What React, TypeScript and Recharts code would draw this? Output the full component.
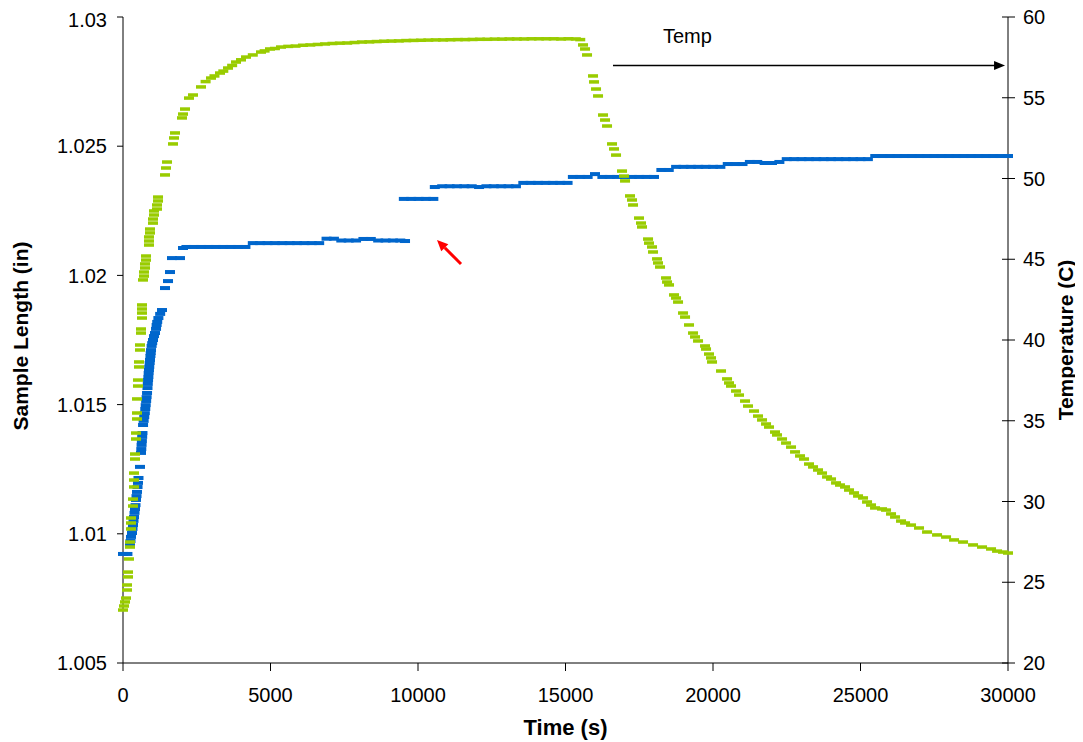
import { ComposedChart, Scatter, XAxis, YAxis, ReferenceLine } from "recharts";

// time (s) vs sample length (in)
const lengthRise: [number, number][] = [
  [0, 1.00922], [150, 1.00922], [237, 1.00957], [254, 1.00972], [271, 1.00988], [305, 1.01003],
  [322, 1.01019], [339, 1.01034], [356, 1.0105], [373, 1.01065], [390, 1.01081], [407, 1.01096],
  [424, 1.01111], [441, 1.01131], [458, 1.01146], [475, 1.01162], [492, 1.01181], [508, 1.01197],
  [525, 1.01216], [576, 1.01259], [610, 1.01313], [620, 1.01328], [630, 1.01344], [640, 1.01359],
  [650, 1.01375], [660, 1.0139], [680, 1.01421], [700, 1.01437], [720, 1.01452], [740, 1.01467],
  [755, 1.01483], [770, 1.01498], [785, 1.01514], [800, 1.01529], [815, 1.01545], [830, 1.01564],
  [840, 1.0158], [850, 1.01595], [860, 1.01607], [870, 1.01622], [880, 1.01634], [890, 1.01646],
  [905, 1.01661], [915, 1.01673], [930, 1.01688], [940, 1.017], [950, 1.01711], [970, 1.01727],
  [990, 1.01738], [1017, 1.0175], [1050, 1.01765], [1085, 1.01777], [1120, 1.01793], [1140, 1.01808],
  [1160, 1.0182], [1200, 1.01835], [1260, 1.01851], [1322, 1.01866], [1424, 1.01951], [1526, 1.01978],
  [1593, 1.02013], [1661, 1.02067], [1932, 1.02067], [2034, 1.02106],
];

const lengthFirstHold: [number, number][] = [
  [2150, 1.0211], [2400, 1.0211], [2650, 1.0211], [2900, 1.0211], [3150, 1.0211], [3400, 1.0211],
  [3650, 1.0211], [3900, 1.0211], [4150, 1.0211], [4400, 1.02125], [4650, 1.02125], [4900, 1.02125],
  [5150, 1.02125], [5400, 1.02125], [5650, 1.02125], [5900, 1.02125], [6150, 1.02125], [6400, 1.02125],
  [6650, 1.02125], [6900, 1.02142], [7150, 1.02142], [7400, 1.02135], [7650, 1.02135], [7900, 1.02135],
  [8150, 1.02141], [8400, 1.02141], [8650, 1.02135], [8900, 1.02135], [9150, 1.02135], [9400, 1.02135],
  [9560, 1.02133],
];

const lengthSecondHold: [number, number][] = [
  [9520, 1.02296], [9770, 1.02296], [10020, 1.02296], [10270, 1.02296], [10520, 1.02296],
  [10570, 1.02342], [10820, 1.02345], [11070, 1.02345], [11320, 1.02345], [11570, 1.02345],
  [11820, 1.02345], [12070, 1.02342], [12320, 1.02345], [12570, 1.02345], [12820, 1.02345],
  [13070, 1.02345], [13320, 1.02345], [13570, 1.02358], [13820, 1.02358], [14070, 1.02358],
  [14320, 1.02358], [14570, 1.02358], [14820, 1.02358], [15070, 1.02358], [15250, 1.02381],
  [15500, 1.02381], [15750, 1.02381], [16000, 1.02392], [16250, 1.02381], [16500, 1.02381],
  [16750, 1.02381], [17000, 1.02381], [17250, 1.02381], [17500, 1.02381], [17750, 1.02381],
  [18000, 1.02381], [18250, 1.02408], [18500, 1.02408], [18750, 1.0242], [19000, 1.0242],
  [19250, 1.0242], [19500, 1.0242], [19750, 1.0242], [20000, 1.0242], [20250, 1.0242],
  [20500, 1.02431], [20750, 1.02431], [21000, 1.02431], [21250, 1.02439], [21500, 1.02439],
  [21750, 1.02435], [22000, 1.02435], [22250, 1.02439], [22500, 1.0245], [22750, 1.0245],
  [23000, 1.0245], [23250, 1.0245], [23500, 1.0245], [23750, 1.0245], [24000, 1.0245],
  [24250, 1.0245], [24500, 1.0245], [24750, 1.0245], [25000, 1.0245], [25250, 1.0245],
  [25500, 1.02462], [25750, 1.02462], [26000, 1.02462], [26250, 1.02462], [26500, 1.02462],
  [26750, 1.02462], [27000, 1.02462], [27250, 1.02462], [27500, 1.02462], [27750, 1.02462],
  [28000, 1.02462], [28250, 1.02462], [28500, 1.02462], [28750, 1.02462], [29000, 1.02462],
  [29250, 1.02462], [29500, 1.02462], [29750, 1.02462], [30000, 1.02462],
];

// time (s) vs temperature (C)
const tempRise: [number, number][] = [
  [0, 23.28], [34, 23.53], [68, 23.78], [102, 24.02], [136, 24.52], [136, 24.83], [170, 25.33],
  [170, 25.63], [203, 26.44], [237, 27.18], [237, 27.49], [271, 28.3], [271, 28.67], [271, 28.98],
  [339, 29.72], [339, 30.15], [373, 30.9], [373, 31.33], [373, 31.76], [407, 32.63], [407, 32.94],
  [441, 33.87], [441, 34.24], [475, 35.11], [475, 35.48], [475, 36.35], [508, 37.15], [508, 37.52],
  [542, 38.33], [542, 38.64], [576, 39.38], [576, 39.69], [610, 40.43], [610, 40.68], [644, 41.36],
  [644, 41.67], [644, 41.92], [644, 42.17], [678, 43.72], [712, 43.96], [712, 44.21], [746, 44.46],
  [746, 44.71], [780, 44.95], [780, 45.2], [881, 45.88], [881, 46.13], [881, 46.38], [915, 46.63],
  [915, 46.87], [1017, 47.24], [1017, 47.49], [1051, 47.74], [1051, 47.99], [1153, 48.11],
  [1153, 48.36], [1187, 48.61], [1187, 48.85], [1424, 50.22], [1458, 50.65], [1492, 51.02],
  [1695, 52.14], [1729, 52.51], [1763, 52.82], [2000, 53.75], [2034, 53.99], [2102, 54.3],
  [2237, 54.98], [2373, 55.17], [2644, 55.67], [2800, 56.0], [2983, 56.22], [3100, 56.35],
  [3288, 56.53], [3400, 56.65], [3560, 56.84], [3700, 57.0], [3831, 57.21], [4000, 57.35],
  [4170, 57.52], [4400, 57.65], [4678, 57.83], [4800, 57.9], [4983, 58.02], [5150, 58.05], [5356, 58.14],
];

const tempPlateau: [number, number][] = [
  [5600, 58.18], [5850, 58.2], [6100, 58.25], [6350, 58.27], [6600, 58.3], [6850, 58.33],
  [7100, 58.36], [7350, 58.38], [7600, 58.39], [7850, 58.42], [8100, 58.45], [8350, 58.46],
  [8600, 58.48], [8850, 58.5], [9100, 58.51], [9350, 58.52], [9600, 58.54], [9850, 58.55],
  [10100, 58.56], [10350, 58.57], [10600, 58.58], [10850, 58.58], [11100, 58.59], [11350, 58.6],
  [11600, 58.6], [11850, 58.61], [12100, 58.62], [12350, 58.62], [12600, 58.63], [12850, 58.63],
  [13100, 58.64], [13350, 58.64], [13600, 58.64], [13850, 58.65], [14100, 58.65], [14350, 58.65],
  [14600, 58.65], [14850, 58.64], [15100, 58.65], [15350, 58.64], [15500, 58.6],
];

const tempFall: [number, number][] = [
  [15594, 58.27], [15662, 58.02], [15730, 57.65], [15933, 56.35], [15967, 55.98], [16035, 55.54],
  [16103, 55.11], [16272, 53.93], [16340, 53.62], [16408, 53.25], [16577, 52.14], [16645, 51.83],
  [16713, 51.45], [16916, 50.46], [16984, 50.15], [17018, 49.85], [17187, 48.92], [17255, 48.67],
  [17289, 48.36], [17492, 47.55], [17560, 47.24], [17594, 47.0], [17798, 46.25], [17831, 46.0],
  [17933, 45.76], [17967, 45.45], [18103, 45.02], [18136, 44.77], [18204, 44.52], [18408, 43.84],
  [18442, 43.59], [18509, 43.41], [18679, 42.79], [18747, 42.6], [18815, 42.35], [18984, 41.67],
  [19052, 41.42], [19187, 40.93], [19323, 40.43], [19391, 40.19], [19493, 39.94], [19730, 39.63],
  [19764, 39.44], [19865, 39.13], [19933, 38.89], [19967, 38.64], [20272, 38.08], [20476, 37.59],
  [20543, 37.34], [20611, 37.15], [20781, 36.84], [20882, 36.59], [21086, 36.22], [21187, 35.91],
  [21391, 35.6], [21526, 35.29], [21662, 35.05], [21798, 34.8], [21899, 34.61], [22102, 34.3],
  [22170, 34.12], [22340, 33.87], [22476, 33.62], [22645, 33.37], [22781, 33.07], [22950, 32.82],
  [23086, 32.63], [23255, 32.32], [23391, 32.14], [23560, 31.95], [23696, 31.76], [23866, 31.52],
  [24001, 31.39], [24171, 31.15], [24306, 31.02], [24476, 30.9], [24611, 30.71], [24781, 30.53],
  [24917, 30.34], [25086, 30.22], [25222, 29.97], [25357, 29.78], [25493, 29.6], [25730, 29.54],
  [25866, 29.47], [26035, 29.23], [26171, 29.04], [26374, 28.79], [26510, 28.67], [26713, 28.54],
  [26984, 28.36], [27256, 28.11], [27595, 27.93], [27900, 27.8], [28171, 27.62], [28476, 27.49],
  [28815, 27.31], [29120, 27.18], [29425, 27.06], [29629, 26.93], [29832, 26.87], [30000, 26.81],
];

const timeTicks = [0, 5000, 10000, 15000, 20000, 25000, 30000];
const lengthTicks = [1.005, 1.01, 1.015, 1.02, 1.025, 1.03];
const tempTicks = [20, 25, 30, 35, 40, 45, 50, 55, 60];

// annotations: "Temp" arrow (right axis) and red marker arrow (left axis)
const tempArrow = [{ x: 16610, y: 57 }, { x: 29900, y: 57 }];
const redArrow = [{ x: 10645, y: 1.02137 }, { x: 11458, y: 1.02044 }];

const BLUE = "#0066CC";
const GREEN = "#99CC00";
const FONT = "'Liberation Sans', Arial, sans-serif";

const toPoints = (rows: [number, number][]) => rows.map(([t, v]) => ({ t, v }));
const lengthData = toPoints([...lengthRise, ...lengthFirstHold, ...lengthSecondHold]);
const tempData = toPoints([...tempRise, ...tempPlateau, ...tempFall]);

const dash = (color: string, w: number, h: number) => (p: any) =>
  <rect x={p.cx - w / 2} y={p.cy - h / 2} width={w} height={h} fill={color} />;

const RightTick = (p: any) => {
  const ax = p.x - 15;
  return (
    <g>
      <line x1={ax - 6} x2={ax + 7} y1={p.y} y2={p.y} stroke="#000" />
      <text x={p.x} y={p.y} dy="0.35em" fontSize={20} fill="#000" fontFamily={FONT}>{p.payload.value}</text>
    </g>
  );
};

const leftTitle = (p: any) => {
  const vb = p.viewBox || { x: 0, y: 9, width: 115, height: 646 };
  const cx = vb.x + 20;
  const cy = vb.y + vb.height / 2 - 4;
  return (
    <text x={cx} y={cy} transform={`rotate(-90 ${cx} ${cy})`} textAnchor="middle" fontSize={21} fontWeight="bold" fill="#000" fontFamily={FONT}>
      Sample Length (in)
    </text>
  );
};

const rightTitle = (p: any) => {
  const vb = p.viewBox || { x: 1000, y: 9, width: 75, height: 646 };
  const cx = vb.x + 65;
  const cy = vb.y + vb.height / 2;
  return (
    <text x={cx} y={cy} transform={`rotate(-90 ${cx} ${cy})`} textAnchor="middle" fontSize={21} fontWeight="bold" fill="#000" fontFamily={FONT}>
      Temperature (C)
    </text>
  );
};

const bottomTitle = (p: any) => {
  const vb = p.viewBox || { x: 115, y: 655, width: 885, height: 75 };
  return (
    <text x={vb.x + vb.width / 2} y={vb.y + 72} textAnchor="middle" fontSize={22} fontWeight="bold" fill="#000" fontFamily={FONT}>
      Time (s)
    </text>
  );
};

const TempArrowShape = (p: any) => {
  const { x1, y1, x2, y2 } = p;
  return (
    <g>
      <line x1={x1} y1={y1} x2={x2 - 8} y2={y2} stroke="#000" strokeWidth={1.5} />
      <polygon points={`${x2},${y2} ${x2 - 11},${y2 - 4.5} ${x2 - 11},${y2 + 4.5}`} fill="#000" />
      <text x={x1 + 50} y={y1 - 22} fontSize={20} fill="#000" fontFamily={FONT}>Temp</text>
    </g>
  );
};

const RedArrowShape = (p: any) => {
  const { x1, y1, x2, y2 } = p;
  const len = Math.hypot(x2 - x1, y2 - y1);
  const ux = (x2 - x1) / len;
  const uy = (y2 - y1) / len;
  const hl = 11;
  const hw = 5;
  const bx = x1 + ux * hl;
  const by = y1 + uy * hl;
  return (
    <g>
      <line x1={bx} y1={by} x2={x2} y2={y2} stroke="#FF0000" strokeWidth={3} />
      <polygon points={`${x1},${y1} ${bx - uy * hw},${by + ux * hw} ${bx + uy * hw},${by - ux * hw}`} fill="#FF0000" />
    </g>
  );
};

export default function App() {
  return (
    <div style={{ width: 1075, height: 734, fontFamily: FONT }}>
      <ComposedChart width={1075} height={734} margin={{ top: 9, right: 0, bottom: 4, left: 0 }}>
        <XAxis
          type="number"
          dataKey="t"
          domain={[0, 30000]}
          ticks={timeTicks}
          height={75}
          tickSize={8}
          tickMargin={17}
          stroke="#000"
          tick={{ fill: "#000", fontSize: 20, fontFamily: FONT }}
          label={bottomTitle}
        />
        <YAxis
          yAxisId="left"
          type="number"
          dataKey="v"
          domain={[1.005, 1.03]}
          ticks={lengthTicks}
          width={115}
          tickSize={6}
          tickMargin={10}
          stroke="#000"
          tickFormatter={(v: number) => String(+v.toFixed(3))}
          tick={{ fill: "#000", fontSize: 20, fontFamily: FONT }}
          label={leftTitle}
        />
        <YAxis
          yAxisId="right"
          orientation="right"
          type="number"
          dataKey="v"
          domain={[20, 60]}
          ticks={tempTicks}
          width={75}
          tickSize={7}
          tickMargin={8}
          tickLine={false}
          stroke="#000"
          tick={RightTick}
          label={rightTitle}
        />
        <Scatter
          name="Sample Length"
          yAxisId="left"
          data={lengthData}
          dataKey="v"
          shape={dash(BLUE, 10, 4)}
          isAnimationActive={false}
        />
        <Scatter
          name="Temp"
          yAxisId="right"
          data={tempData}
          dataKey="v"
          shape={dash(GREEN, 10, 3.5)}
          isAnimationActive={false}
        />
        <ReferenceLine yAxisId="right" segment={tempArrow} shape={TempArrowShape} ifOverflow="visible" />
        <ReferenceLine yAxisId="left" segment={redArrow} shape={RedArrowShape} ifOverflow="visible" />
      </ComposedChart>
    </div>
  );
}
